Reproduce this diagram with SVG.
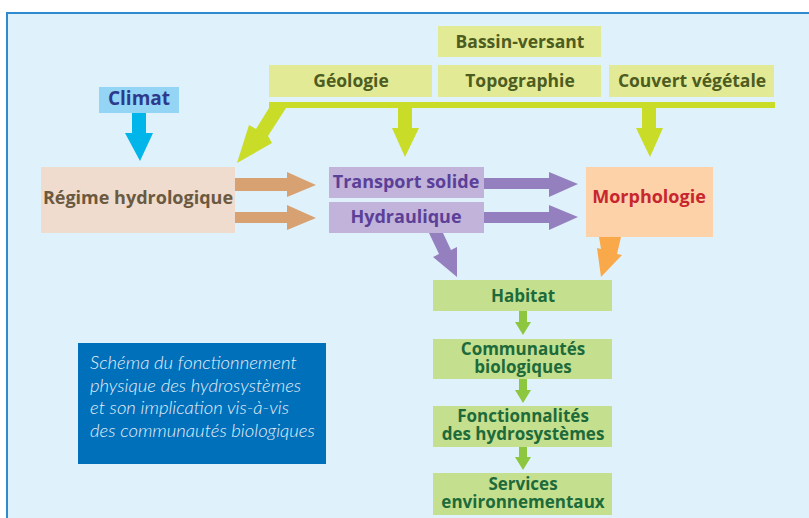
<svg xmlns="http://www.w3.org/2000/svg" width="809" height="518" viewBox="0 0 809 518">
<style>
.t{font-family:"Open Sans",Lato,"Liberation Sans",sans-serif;font-weight:bold;text-anchor:middle}
.top{fill:#e3ea95}
.topt{fill:#4d5c1f;font-size:17.5px}
.pur{fill:#c1b3d9}
.purt{fill:#5b3f98;font-size:18px}
.gr{fill:#c4df8e}
.grt{fill:#1d6a3a;font-size:17px}
.cap{font-family:Lato,"Open Sans","Liberation Sans",sans-serif;font-style:italic;font-weight:300;font-size:18.5px;fill:#e3eef9}
</style>
<rect width="809" height="518" fill="#ffffff"/>
<rect x="7" y="13" width="812" height="520" fill="#dff1fb" stroke="#2e8bd0" stroke-width="2"/>

<g id="connectors">
  <rect x="269" y="102" width="506" height="6" fill="#c8dc28"/>
  <polygon points="269,108 286,108 268,136 272,143 237,163 249,125 256,129" fill="#c8dc28"/>
  <polygon points="398,108 412,108 412,128 419,128 405,157 392,128 398,128" fill="#c8dc28"/>
  <polygon points="642,108 656,108 656,128 663,128 650,157 636,128 642,128" fill="#c8dc28"/>
  <polygon points="132,113 146,113 146,133 153,133 140,161 125,133 132,133" fill="#00b5ea"/>
  <polygon points="235,178 287,178 287,172 316,185 287,197 287,191 235,191" fill="#d8a172"/>
  <polygon points="235,212 287,212 287,205 316,218 287,230 287,223 235,223" fill="#d8a172"/>
  <polygon points="484,178 549,178 549,172 578,184 549,197 549,189 484,189" fill="#9580bf"/>
  <polygon points="484,212 549,212 549,205 578,217 549,230 549,223 484,223" fill="#9580bf"/>
  <polygon points="429,233 443,233 451,250 457,247 457,277 433,257 439,254" fill="#9580bf"/>
  <polygon points="599,237 621,237 617,254 622,255 601,277 597,248 601,249" fill="#f9a94a"/>
  <polygon points="519,311 527,311 527,322 531,322 523,335 515,322 519,322" fill="#8dc63f"/>
  <polygon points="519,379 527,379 527,390 531,390 523,403 515,390 519,390" fill="#8dc63f"/>
  <polygon points="519,447 527,447 527,457 531,457 523,470 515,457 519,457" fill="#8dc63f"/>
</g>

<g id="bassin"><rect class="top" x="438" y="26" width="163" height="31"/><text class="t topt" x="520" y="48">Bassin-versant</text></g>
<g id="geologie"><rect class="top" x="269" y="65" width="163" height="32"/><text class="t topt" x="351" y="87">Géologie</text></g>
<g id="topographie"><rect class="top" x="438" y="65" width="163" height="32"/><text class="t topt" x="520" y="87">Topographie</text></g>
<g id="couvert"><rect class="top" x="609" y="65" width="165" height="32"/><text class="t topt" x="692" y="87">Couvert végétale</text></g>

<g id="climat"><rect x="99" y="87" width="80" height="26" fill="#94d4f5"/><text class="t" x="139" y="105" font-size="19" fill="#2c3a8c">Climat</text></g>

<g id="regime"><rect x="41" y="167" width="194" height="66" fill="#efdccf"/><text class="t" x="138" y="204" font-size="18" fill="#6b5940">Régime hydrologique</text></g>

<g id="transport"><rect class="pur" x="329" y="167" width="155" height="31"/><text class="t purt" x="406" y="188">Transport solide</text></g>
<g id="hydraulique"><rect class="pur" x="329" y="202" width="155" height="31"/><text class="t purt" x="406" y="223">Hydraulique</text></g>

<g id="morphologie"><rect x="586" y="167" width="127" height="70" fill="#fdd2a8"/><text class="t" x="649" y="203" font-size="18" fill="#c8262f">Morphologie</text></g>

<g id="habitat"><rect class="gr" x="433" y="280" width="179" height="31"/><text class="t grt" x="523" y="302" font-size="18">Habitat</text></g>
<g id="communautes"><rect class="gr" x="433" y="339" width="179" height="40"/><text class="t grt" x="523" y="355">Communautés</text><text class="t grt" x="523" y="372.5">biologiques</text></g>
<g id="fonctionnalites"><rect class="gr" x="433" y="406" width="179" height="41"/><text class="t grt" x="523" y="422">Fonctionnalités</text><text class="t grt" x="523" y="439.5">des hydrosystèmes</text></g>
<g id="services"><rect class="gr" x="433" y="473" width="179" height="42"/><text class="t grt" x="523" y="490">Services</text><text class="t grt" x="523" y="507.5">environnementaux</text></g>

<g id="caption">
  <rect x="78" y="343" width="248" height="121" fill="#0070bb"/>
  <text class="cap" x="90" y="369">Schéma du fonctionnement</text>
  <text class="cap" x="90" y="391.5">physique des hydrosystèmes</text>
  <text class="cap" x="90" y="414">et son implication vis-à-vis</text>
  <text class="cap" x="90" y="437">des communautés biologiques</text>
</g>
</svg>
